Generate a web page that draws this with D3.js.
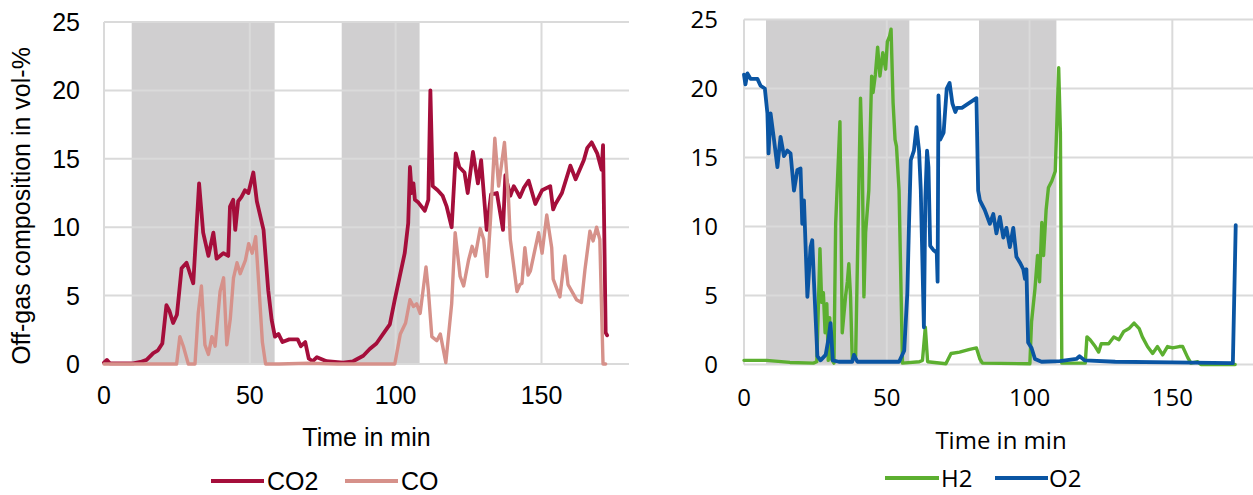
<!DOCTYPE html>
<html>
<head>
<meta charset="utf-8">
<script src="https://cdn.jsdelivr.net/npm/d3@7"></script>
<style>
  body { margin: 0; background: #fff; }
  svg { display: block; }
</style>
</head>
<body>
<div id="chart"></div>
<script>
// Off-gas composition, two panels side by side

// x ticks / y ticks shared by both panels
var xTicks = [0, 50, 100, 150];
var yTicks = [0, 5, 10, 15, 20, 25];

// shaded periods (min)
var bandsLeft = [[9.5, 58.5], [81.5, 108.2]];
var bandsRight = [[7.7, 57.9], [82.3, 109.4]];

// [time in min, vol-%]
var co2 = [[0,0.1],[1,0.3],[2,0.05],[5,0.05],[10,0.05],[12.5,0.15],[14.6,0.3],[16.9,0.8],[18.5,1.0],[20,1.5],
  [21.4,4.3],[22.4,3.9],[23.7,3.0],[25,3.6],[26.6,7.0],[28.3,7.4],[29.5,6.6],[30.6,5.9],[32.6,13.2],[34,9.6],
  [35.8,7.9],[37.5,9.6],[38.6,7.7],[40.9,8.1],[42.6,7.9],[43.2,11.5],[44.3,12.0],[45,9.8],[46,11.9],[47.1,12.2],
  [48.3,12.7],[49.5,12.5],[51.2,14.0],[52.4,11.9],[54.7,9.8],[56.3,5.4],[57.5,3.2],[58.6,2.0],[59.8,2.2],[61.2,1.6],
  [63.5,1.8],[66.4,1.8],[67.5,1.3],[69,1.6],[70.2,0.4],[71.5,0.2],[73,0.5],[76.3,0.2],[82,0.1],[85.4,0.2],
  [88.9,0.6],[91.1,1.1],[93.4,1.5],[95.7,2.2],[98,2.9],[99.7,4.7],[101.4,6.4],[103.1,8.1],[104.3,10.3],[104.9,14.4],
  [105.5,12.5],[106.1,13.2],[106.6,12.0],[107.8,11.8],[110,11.2],[111.2,12.0],[111.9,20.0],[112.7,13.0],[114.4,12.7],
  [116.1,12.3],[117.5,11.5],[119.2,10.0],[120.6,15.4],[121.8,14.4],[123.6,14.0],[124.7,12.5],[126.5,15.5],[128.2,13.2],
  [129.3,14.9],[131.2,9.8],[132.7,12.4],[134.7,12.5],[136.8,9.8],[137.6,13.8],[139.3,12.3],[140.5,13.0],[141.6,12.6],
  [142.6,12.2],[144,12.9],[145.6,13.4],[147.9,11.7],[150.2,12.7],[153,13.0],[154,11.3],[154.8,11.7],[157,12.5],
  [159.9,14.5],[161.7,13.5],[164.5,14.9],[165.7,15.8],[167.2,16.2],[169.1,15.4],[170.6,14.2],[171.1,16.0],[171.6,8.4],
  [172.0,2.3],[172.5,2.1]];

var co = [[0,0],[10,0],[20,0],[24.9,0],[26.0,2.0],[27.2,1.3],[28.9,0],[31.2,0],[32.3,3.7],[33.4,5.7],[34.6,1.4],
  [35.8,0.7],[37,2.0],[38.1,1.3],[39.8,5.3],[41,6.3],[42.1,1.4],[43.3,3.3],[44.4,6.3],[45.6,7.4],[46.7,6.6],
  [48.5,7.6],[49.6,8.8],[50.8,8.1],[52,9.3],[53.1,5.7],[54.3,1.6],[55.4,0],[60,0],[70,0.05],[80,0],[99.7,0],
  [101.6,2.2],[103.4,3.0],[104.9,4.7],[106.1,4.2],[107.2,4.4],[108.4,3.7],[110.4,7.1],[111.2,5.4],[112.4,2.0],
  [114.1,1.7],[115.3,2.2],[117.2,0.1],[119.2,4.4],[120.4,9.6],[122.1,6.4],[123.3,5.7],[125,7.6],[126.2,8.6],
  [127.3,7.9],[129,9.9],[130.2,9.1],[131.3,6.4],[132.5,10.5],[134.0,16.5],[135.3,13.0],[137.3,16.2],[138.7,12.0],
  [139.3,9.1],[141.6,5.3],[142.6,5.8],[143.3,5.9],[144.3,8.5],[145.4,6.5],[146.2,6.8],[147.3,7.9],[149,9.6],
  [150.2,8.1],[151.8,10.9],[153.5,8.5],[154,6.2],[156.3,4.9],[158,7.9],[159.1,5.8],[162,4.7],[163.7,4.5],
  [164.9,6.9],[166.6,9.7],[167.7,9.0],[168.9,10.0],[170,9.1],[170.6,4.0],[171.1,0],[172,0]];

var h2 = [[0,0.3],[7.9,0.3],[16.1,0.15],[24.3,0.1],[25.5,0.2],[26.6,8.4],[27.2,4.5],[27.8,5.2],[28.4,2.3],[29,4.4],
  [29.5,0.3],[30,3.4],[30.3,0.5],[31.5,0.1],[32.1,10.2],[33.6,17.6],[34.4,2.3],[35.6,5.0],[36.2,6.0],[36.7,7.3],
  [37.3,5.0],[37.9,0.4],[39.1,0.6],[40.8,19.3],[41.4,15.0],[42,4.9],[42.6,9.6],[43.7,12.6],[44.7,20.9],[45.2,19.7],
  [46,21.0],[46.8,23.0],[47.6,20.9],[48.6,22.6],[49.6,21.4],[50.2,23.4],[51,23.8],[51.5,24.3],[52.2,19.0],
  [52.9,16.3],[53.4,15.8],[54.3,12.6],[55.5,0.1],[61.4,0.2],[62.5,0.3],[63.5,2.7],[64.3,0.2],[70.7,0.05],
  [72.5,0.8],[75.5,0.9],[79,1.1],[81.4,1.2],[82.6,0.4],[83.5,0.1],[100.1,0.05],[100.7,3.1],[101.9,5.5],[102.8,7.9],
  [103.5,6.0],[104.3,10.3],[104.9,7.9],[105.8,11.2],[106.6,12.8],[107.8,13.3],[109,14.0],[110.2,21.5],[110.8,16.8],
  [111.3,0.1],[119.5,0.1],[120.1,2.0],[121.2,1.8],[123,1.3],[124.2,0.9],[125.1,1.5],[127.7,1.5],[129.5,2.0],
  [131.3,1.8],[133,2.4],[134.8,2.6],[136.6,3.0],[138.4,2.6],[139.5,2.0],[141.3,1.3],[143.1,0.8],[144.8,1.3],
  [146.6,0.7],[148.3,1.3],[150.1,1.2],[152.4,1.3],[153.6,1.3],[155.4,0.5],[156.5,0.1],[158.9,0.2],[160,0],[172,0]];

var o2 = [[0,21.0],[0.5,20.3],[1.2,21.1],[2.3,20.7],[4.7,20.7],[5.8,20.2],[7.3,20.0],[8.2,18.2],[8.6,15.3],
  [9.3,18.2],[10.5,16.3],[11.7,14.3],[12.8,16.5],[14,15.1],[15.2,15.5],[16.3,15.3],[17.5,12.6],[18.7,14.1],
  [19.8,14.2],[20.4,10.2],[21,11.9],[22.2,4.9],[23.3,8.5],[23.9,9.0],[24.5,6.0],[25.7,0.6],[26.8,0.3],[28.6,0.7],
  [29.7,2.0],[30.3,3.0],[31.1,0.3],[33.2,0.2],[37.9,0.2],[38.5,0.7],[39.7,0.2],[54.3,0.2],[56.1,1.0],[57.2,5.2],
  [57.8,10.3],[58.4,14.8],[59.5,15.5],[60.4,17.2],[61.3,15.5],[61.9,12.7],[63.0,2.7],[63.5,12.0],[64.1,15.5],
  [64.6,14.3],[65.2,8.6],[66.3,8.3],[67.5,8.1],[67.8,6.0],[68.1,19.5],[68.7,16.3],[69.9,16.8],[71,20.0],[72,20.4],
  [73,18.9],[74,18.3],[74.6,18.6],[76.3,18.6],[81.4,19.3],[82.0,12.6],[82.6,11.9],[84.3,11.2],[86.1,10.2],
  [87.3,10.9],[88.4,9.5],[89.6,10.7],[90.8,9.2],[91.9,9.9],[93.1,8.5],[94.3,9.9],[95.4,7.8],[96.6,7.4],[97.8,6.9],
  [98.4,6.2],[98.9,6.9],[99.5,1.6],[100.7,1.2],[101.9,0.4],[104.2,0.2],[110.6,0.25],[116.4,0.4],[117.5,0.6],
  [119.3,0.3],[130,0.2],[150,0.15],[171.2,0.1],[172.2,10.1]];

var W = 1253, H = 495;

var svg = d3.select("#chart").append("svg")
    .attr("width", W)
    .attr("height", H);

var panels = [
  { left: 104, right: 629, top: 22, bottom: 364, bands: bandsLeft,
    font: "'Liberation Sans', Arial, sans-serif", size: 25,
    tickEnd: 80, xTickY: 404, titleY: 446, legendY: 481,
    series: [{ name: "CO2", data: co2, color: "#A50E3B", w: 3.8 },
             { name: "CO", data: co, color: "#D6918A", w: 3.4 }],
    legend: [{ x1: 211, x2: 264, tx: 267 }, { x1: 345, x2: 398, tx: 401 }] },
  { left: 744, right: 1258, top: 19.5, bottom: 364.5, bands: bandsRight,
    font: "'Open Sans', 'Noto Sans', sans-serif", size: 24,
    tickEnd: 718, xTickY: 406, titleY: 449, legendY: 478,
    series: [{ name: "H2", data: h2, color: "#5CAF30", w: 3.4 },
             { name: "O2", data: o2, color: "#0A55A3", w: 3.8 }],
    legend: [{ x1: 885, x2: 939, tx: 941 }, { x1: 995, x2: 1048, tx: 1049 }] }
];

panels.forEach(function(p) {
  var x = d3.scaleLinear().domain([0, 180]).range([p.left, p.right]);
  var y = d3.scaleLinear().domain([0, 25]).range([p.bottom, p.top]);
  var g = svg.append("g");

  // grey shaded periods
  g.selectAll("rect.band").data(p.bands).enter().append("rect")
      .attr("x", function(d) { return x(d[0]); })
      .attr("y", y(25))
      .attr("width", function(d) { return x(d[1]) - x(d[0]); })
      .attr("height", y(0) - y(25))
      .style("fill", "#D0CFD0");

  // gridlines
  g.selectAll("line.hgrid").data(yTicks).enter().append("line")
      .attr("x1", x(0)).attr("x2", x(180))
      .attr("y1", function(d) { return y(d); }).attr("y2", function(d) { return y(d); })
      .style("stroke", "#DADADA").style("stroke-width", 2);
  g.selectAll("line.vgrid").data(xTicks).enter().append("line")
      .attr("x1", function(d) { return x(d); }).attr("x2", function(d) { return x(d); })
      .attr("y1", y(25)).attr("y2", y(0))
      .style("stroke", "#DADADA").style("stroke-width", 2);

  // tick labels
  g.selectAll("text.ytick").data(yTicks).enter().append("text")
      .attr("x", p.tickEnd).attr("y", function(d) { return y(d); })
      .attr("dy", "0.36em")
      .attr("text-anchor", "end")
      .style("font-family", p.font).style("font-size", p.size + "px")
      .text(function(d) { return d; });
  g.selectAll("text.xtick").data(xTicks).enter().append("text")
      .attr("x", function(d) { return x(d); }).attr("y", p.xTickY)
      .attr("text-anchor", "middle")
      .style("font-family", p.font).style("font-size", p.size + "px")
      .text(function(d) { return d; });

  g.append("text")
      .attr("x", (p.left + p.right) / 2).attr("y", p.titleY)
      .attr("text-anchor", "middle")
      .style("font-family", p.font).style("font-size", p.size + "px")
      .text("Time in min");

  // the lines
  var line = d3.line()
      .x(function(d) { return x(d[0]); })
      .y(function(d) { return y(d[1]); });

  p.series.forEach(function(s) {
    g.append("path")
        .datum(s.data)
        .attr("d", line)
        .style("fill", "none")
        .style("stroke", s.color)
        .style("stroke-width", s.w)
        .style("stroke-linejoin", "round")
        .style("stroke-linecap", "round");
  });

  // legend
  p.series.forEach(function(s, i) {
    var l = p.legend[i];
    g.append("line")
        .attr("x1", l.x1).attr("x2", l.x2)
        .attr("y1", p.legendY).attr("y2", p.legendY)
        .style("stroke", s.color).style("stroke-width", 4);
    g.append("text")
        .attr("x", l.tx).attr("y", p.legendY).attr("dy", "0.36em")
        .style("font-family", p.font).style("font-size", p.size + "px")
        .text(s.name);
  });
});

// y axis title, only on the left panel
svg.append("text")
    .attr("transform", "translate(30,206) rotate(-90)")
    .attr("text-anchor", "middle")
    .style("font-family", "'Liberation Sans', Arial, sans-serif")
    .style("font-size", "25px")
    .text("Off-gas composition in vol-%");
</script>
</body>
</html>
